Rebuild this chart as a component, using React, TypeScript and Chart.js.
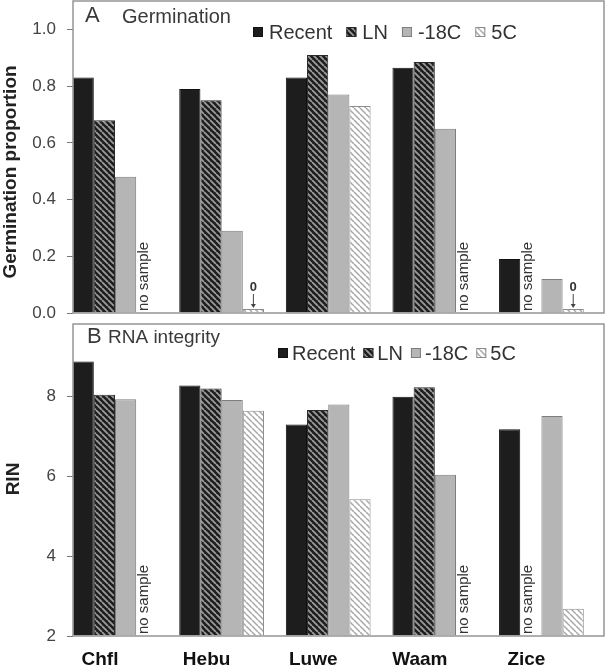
import React, { useEffect, useRef } from "react";
import { Chart, registerables } from "chart.js";

Chart.register(...registerables);

// ---- data ----
const sites = ["Chfl", "Hebu", "Luwe", "Waam", "Zice"];
const storage = ["Recent", "LN", "-18C", "5C"];

// Germination proportion (null = no sample)
const germRecent: (number | null)[] = [0.83, 0.79, 0.83, 0.865, 0.19];
const germLN: (number | null)[] = [0.68, 0.75, 0.91, 0.885, null];
const germMinus18: (number | null)[] = [0.48, 0.29, 0.77, 0.65, 0.12];
const germ5C: (number | null)[] = [null, 0, 0.73, null, 0];

// RNA integrity number (null = no sample)
const rinRecent: (number | null)[] = [8.86, 8.26, 7.29, 7.98, 7.17];
const rinLN: (number | null)[] = [8.03, 8.19, 7.65, 8.22, null];
const rinMinus18: (number | null)[] = [7.92, 7.9, 7.79, 6.03, 7.5];
const rin5C: (number | null)[] = [null, 7.63, 5.42, null, 2.68];

const germTicks = [0, 0.2, 0.4, 0.6, 0.8, 1.0];
const rinTicks = [2, 4, 6, 8];

const FONT = "'Liberation Sans', Arial, Helvetica, sans-serif";
const X_MIN = -0.394;
const X_MAX = 4.587;

type Val = number | null;

interface PanelSpec {
  series: Val[][];
  yMin: number;
  yMax: number;
  yTicks: number[];
  digits: number;
  yTitle: string;
  yTitleX: number;
  yTitleY: number;
  letter: string;
  letterX: number;
  letterY: number;
  caption: string;
  captionX: number;
  captionY: number;
  captionSize: number;
  legendX: number;
  legendY: number;
  legendSize: number;
  legendTextGap: number;
  legendItemGap: number;
  showSites: boolean;
  padTop: number;
  xAxisHeight: number;
  base: number;
}

function hatch(bg: string, fg: string, lw: number, size: number): CanvasPattern {
  const c = document.createElement("canvas");
  c.width = size;
  c.height = size;
  const g = c.getContext("2d")!;
  g.fillStyle = bg;
  g.fillRect(0, 0, size, size);
  g.strokeStyle = fg;
  g.lineWidth = lw;
  g.beginPath();
  for (const x0 of [-size, 0, size]) {
    g.moveTo(x0, 0);
    g.lineTo(x0 + size, size);
  }
  g.stroke();
  return g.createPattern(c, "repeat")!;
}

function seriesStyles() {
  return [
    { backgroundColor: "#1d1d1d", borderColor: "#111111" },
    { backgroundColor: hatch("#1e1e1e", "#9c9c9c", 1.8, 6), borderColor: "#2a2a2a" },
    { backgroundColor: "#b5b5b5", borderColor: "#7d7d7d" },
    { backgroundColor: hatch("#ffffff", "#a8a8a8", 1.5, 6), borderColor: "#8c8c8c" },
  ];
}

const framePlugin = {
  id: "frame",
  afterDraw(chart: any) {
    const { ctx, chartArea: a } = chart;
    ctx.save();
    ctx.strokeStyle = "#959595";
    ctx.lineWidth = 1.5;
    ctx.strokeRect(a.left, a.top, a.right - a.left, a.bottom - a.top);
    ctx.restore();
  },
};

const notesPlugin = {
  id: "notes",
  afterDatasetsDraw(chart: any) {
    const { ctx, chartArea: a } = chart;
    chart.data.datasets.forEach((ds: any, k: number) => {
      const meta = chart.getDatasetMeta(k);
      ds.data.forEach((pt: any, i: number) => {
        const el = meta.data[i];
        if (!el) return;
        if (pt.y === null) {
          const left = el.x - el.width / 2;
          ctx.save();
          ctx.translate(left + 8, a.bottom - 2);
          ctx.rotate(-Math.PI / 2);
          ctx.font = `15px ${FONT}`;
          ctx.fillStyle = "#333";
          ctx.textAlign = "left";
          ctx.textBaseline = "middle";
          ctx.fillText("no sample", 0, 0);
          ctx.restore();
        } else if (pt.y === 0) {
          const top = el.y;
          ctx.save();
          ctx.strokeStyle = "#444";
          ctx.fillStyle = "#444";
          ctx.lineWidth = 1;
          ctx.beginPath();
          ctx.moveTo(el.x, top - 15);
          ctx.lineTo(el.x, top - 3);
          ctx.stroke();
          ctx.beginPath();
          ctx.moveTo(el.x - 2.5, top - 5);
          ctx.lineTo(el.x + 2.5, top - 5);
          ctx.lineTo(el.x, top - 1);
          ctx.closePath();
          ctx.fill();
          ctx.font = `bold 13px ${FONT}`;
          ctx.fillStyle = "#333";
          ctx.textAlign = "center";
          ctx.textBaseline = "middle";
          ctx.fillText("0", el.x, top - 22);
          ctx.restore();
        }
      });
    });
  },
};

function textPlugin(spec: PanelSpec) {
  return {
    id: "panelText",
    afterDraw(chart: any) {
      const ctx: CanvasRenderingContext2D = chart.ctx;
      ctx.save();
      // y-axis title
      ctx.save();
      ctx.translate(spec.yTitleX, spec.yTitleY);
      ctx.rotate(-Math.PI / 2);
      ctx.font = `bold 19px ${FONT}`;
      ctx.fillStyle = "#222";
      ctx.textAlign = "center";
      ctx.textBaseline = "middle";
      ctx.fillText(spec.yTitle, 0, 0);
      ctx.restore();

      // panel letter and caption
      ctx.fillStyle = "#3a3a3a";
      ctx.textAlign = "left";
      ctx.textBaseline = "middle";
      ctx.font = `22px ${FONT}`;
      ctx.fillText(spec.letter, spec.letterX, spec.letterY);
      ctx.font = `${spec.captionSize}px ${FONT}`;
      ctx.fillText(spec.caption, spec.captionX, spec.captionY);

      // legend
      let x = spec.legendX;
      const cy = spec.legendY;
      ctx.font = `${spec.legendSize}px ${FONT}`;
      chart.data.datasets.forEach((ds: any) => {
        ctx.fillStyle = ds.backgroundColor;
        ctx.fillRect(x, cy - 5, 10, 10);
        ctx.strokeStyle = ds.borderColor;
        ctx.lineWidth = 1;
        ctx.strokeRect(x + 0.5, cy - 4.5, 9, 9);
        ctx.fillStyle = "#333";
        ctx.fillText(ds.label, x + spec.legendTextGap, cy + 1);
        x += spec.legendTextGap + ctx.measureText(ds.label).width + spec.legendItemGap;
      });
      ctx.restore();
    },
  };
}

function buildChart(canvas: HTMLCanvasElement, spec: PanelSpec) {
  const styles = seriesStyles();
  return new Chart(canvas, {
    type: "bar",
    data: {
      datasets: spec.series.map((vals, k) => ({
        label: storage[k],
        data: vals.map((v, i) => ({ x: i, y: v })),
        backgroundColor: styles[k].backgroundColor as any,
        borderColor: styles[k].borderColor,
        borderWidth: 1,
        base: spec.base,
        minBarLength: k === 3 ? 4 : 0,
        categoryPercentage: 0.795,
        barPercentage: 1,
      })),
    } as any,
    options: {
      animation: false,
      responsive: false,
      devicePixelRatio: 1,
      layout: { padding: { top: spec.padTop, right: 2, left: 0, bottom: 0 } },
      plugins: { legend: { display: false }, tooltip: { enabled: false } },
      scales: {
        x: {
          type: "linear",
          min: X_MIN,
          max: X_MAX,
          offset: false,
          afterBuildTicks: (s: any) => {
            s.ticks = sites.map((_, i) => ({ value: i }));
          },
          afterFit: (s: any) => {
            s.height = spec.xAxisHeight;
            s.paddingLeft = 0;
            s.paddingRight = 0;
            s.paddingTop = 0;
            s.paddingBottom = 0;
          },
          grid: { display: false },
          border: { display: false },
          ticks: {
            display: spec.showSites,
            autoSkip: false,
            maxRotation: 0,
            labelOffset: -15,
            padding: 4,
            color: "#111",
            font: { family: FONT, size: 19, weight: "bold" },
            callback: (v: any) => sites[v] ?? "",
          },
        },
        y: {
          min: spec.yMin,
          max: spec.yMax,
          afterBuildTicks: (s: any) => {
            s.ticks = spec.yTicks.map((v) => ({ value: v }));
          },
          afterFit: (s: any) => {
            s.width = 73;
            s.paddingTop = 0;
            s.paddingBottom = 0;
            s.paddingLeft = 0;
            s.paddingRight = 0;
          },
          grid: { drawOnChartArea: false, drawTicks: true, tickLength: 6, color: "#777" },
          border: { display: false },
          ticks: {
            padding: 11,
            color: "#444",
            font: { family: FONT, size: 17 },
            callback: (v: any) => Number(v).toFixed(spec.digits),
          },
        },
      },
    } as any,
    plugins: [notesPlugin, framePlugin, textPlugin(spec)],
  });
}

const germSpec: PanelSpec = {
  series: [germRecent, germLN, germMinus18, germ5C],
  yMin: 0,
  yMax: 1.1,
  yTicks: germTicks,
  digits: 1,
  yTitle: "Germination proportion",
  yTitleX: 11,
  yTitleY: 172,
  letter: "A",
  letterX: 85,
  letterY: 16,
  caption: "Germination",
  captionX: 122,
  captionY: 17,
  captionSize: 20,
  legendX: 253,
  legendY: 32,
  legendSize: 20,
  legendTextGap: 16,
  legendItemGap: 14,
  showSites: false,
  padTop: 1,
  xAxisHeight: 7,
  base: 0,
};

const rinSpec: PanelSpec = {
  series: [rinRecent, rinLN, rinMinus18, rin5C],
  yMin: 2,
  yMax: 9.8,
  yTicks: rinTicks,
  digits: 0,
  yTitle: "RIN",
  yTitleX: 14,
  yTitleY: 159,
  letter: "B",
  letterX: 87,
  letterY: 17,
  caption: "RNA integrity",
  captionX: 108,
  captionY: 18,
  captionSize: 19,
  legendX: 278,
  legendY: 33,
  legendSize: 20,
  legendTextGap: 14,
  legendItemGap: 8,
  showSites: true,
  padTop: 4,
  xAxisHeight: 30,
  base: 2,
};

function Panel({ spec, top, height }: { spec: PanelSpec; top: number; height: number }) {
  const ref = useRef<HTMLCanvasElement>(null);
  useEffect(() => {
    if (!ref.current) return;
    const chart = buildChart(ref.current, spec);
    return () => chart.destroy();
  }, [spec]);
  return (
    <canvas
      ref={ref}
      width={606}
      height={height}
      style={{ position: "absolute", left: 0, top, width: 606, height }}
    />
  );
}

export default function App() {
  return (
    <div style={{ position: "absolute", left: 0, top: 0, width: 606, height: 666, background: "#fff", overflow: "hidden" }}>
      <Panel spec={germSpec} top={0} height={320} />
      <Panel spec={rinSpec} top={320} height={346} />
    </div>
  );
}
